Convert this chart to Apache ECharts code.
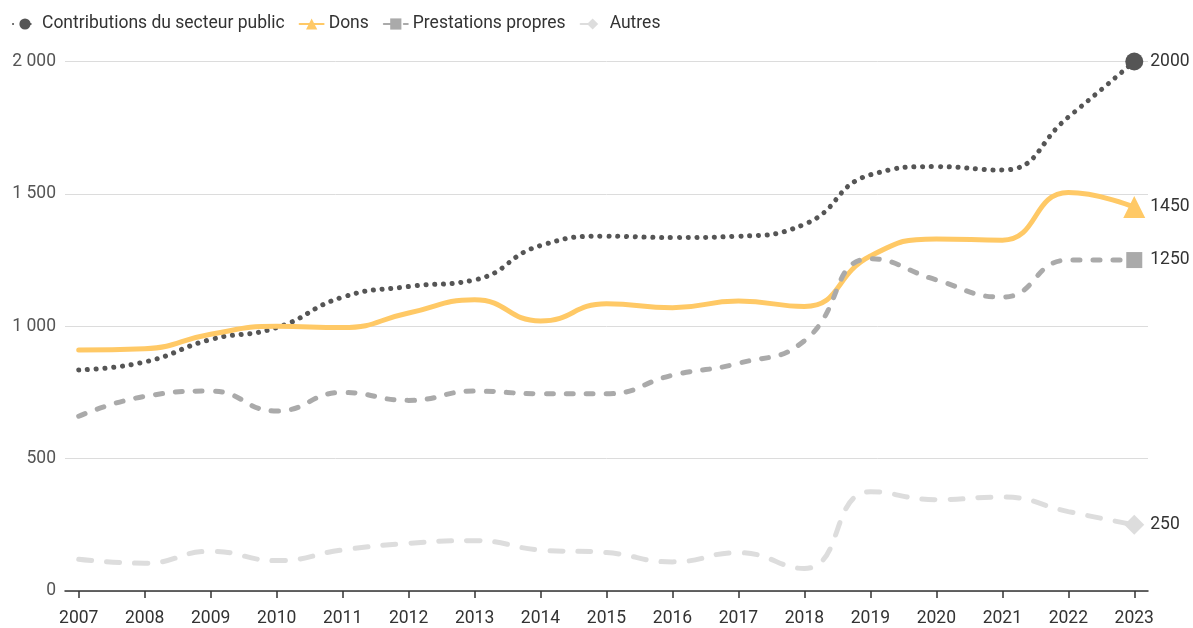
<!DOCTYPE html>
<html>
<head>
<meta charset="utf-8">
<script src="https://cdn.jsdelivr.net/npm/echarts@6/dist/echarts.min.js"></script>
<style>html,body{margin:0;padding:0;background:#fff;overflow:hidden;width:1193px;height:628px;}#c{width:1193px;height:628px;overflow:hidden;}</style>
</head>
<body>
<div id="c"></div>
<script>
const years = [2007,2008,2009,2010,2011,2012,2013,2014,2015,2016,2017,2018,2019,2020,2021,2022,2023];
const yTicks = [0, 500, 1000, 1500, 2000];
const contributions = [835,865,950,995,1110,1150,1175,1305,1340,1335,1340,1385,1572,1603,1590,1790,2000];
const dons = [910,915,970,1000,995,1050,1100,1020,1085,1070,1095,1075,1265,1330,1325,1505,1450];
const prestations = [660,735,755,680,750,720,755,745,745,815,860,945,1255,1175,1110,1250,1250];
const autres = [120,105,150,115,155,180,190,155,145,110,145,85,375,345,355,300,250];
const seriesNames = ['Contributions du secteur public','Dons','Prestations propres','Autres'];

const chart = echarts.init(document.getElementById('c'), null, {renderer:'canvas', width:1193, height:628});
const FONT = 'Roboto';
const FS = 17.5;
function pairs(arr){ return arr.map((v,i)=>[years[i], v]); }
const last = years.length - 1;
function mk(name, data, color, lineStyle, symbol, size){
  return {
    name, type:'line', data: pairs(data), smooth:0.5,
    symbol, symbolSize: (v, p) => p.dataIndex === last ? size : 0,
    showSymbol:true,
    itemStyle:{color},
    lineStyle: Object.assign({color}, lineStyle),
    endLabel:{show:true, formatter: p => String(p.value[1]), color:'#333', fontSize:FS, fontFamily:FONT, distance:16},
    emphasis:{disabled:true},
    z: 2
  };
}
chart.setOption({
  animation:false,
  textStyle:{fontFamily:FONT},
  legend:{
    left:7, top:10, itemWidth:24, itemHeight:14, itemGap:14,
    textStyle:{fontSize:FS, color:'#333', fontFamily:FONT},
    data: seriesNames
  },
  grid:{left:65, right:45, top:61.5, bottom:34.7, containLabel:false},
  xAxis:{
    type:'value', min:2006.792, max:2023.208,
    axisLine:{show:true, lineStyle:{color:'#333', width:1.5}},
    axisTick:{show:true, length:7, lineStyle:{color:'#333', width:1.5}, customValues: years},
    axisLabel:{color:'#333', fontSize:FS, fontFamily:FONT, margin:19, customValues: years, formatter: v => String(v)},
    splitLine:{show:false}
  },
  yAxis:{
    type:'value', min:yTicks[0], max:yTicks[yTicks.length-1], interval:500,
    axisLine:{show:false}, axisTick:{show:false},
    axisLabel:{color:'#555', fontSize:FS, fontFamily:FONT, margin:9,
      formatter: v => String(v).replace(/\B(?=(\d{3})+(?!\d))/g, ' ')},
    splitLine:{show:true, lineStyle:{color:'#dcdcdc', width:1}}
  },
  series:[
    mk(seriesNames[0], contributions, '#555555', {width:5, type:[0.1, 8.7], cap:'round'}, 'circle', 18),
    mk(seriesNames[1], dons, '#FFC966', {width:5, type:'solid', cap:'round'}, 'triangle', 22),
    mk(seriesNames[2], prestations, '#AAAAAA', {width:5, type:[7, 13], cap:'round'}, 'rect', 16),
    mk(seriesNames[3], autres, '#DDDDDD', {width:5, type:[13, 15], cap:'round'}, 'diamond', 20)
  ]
});
</script>
</body>
</html>
